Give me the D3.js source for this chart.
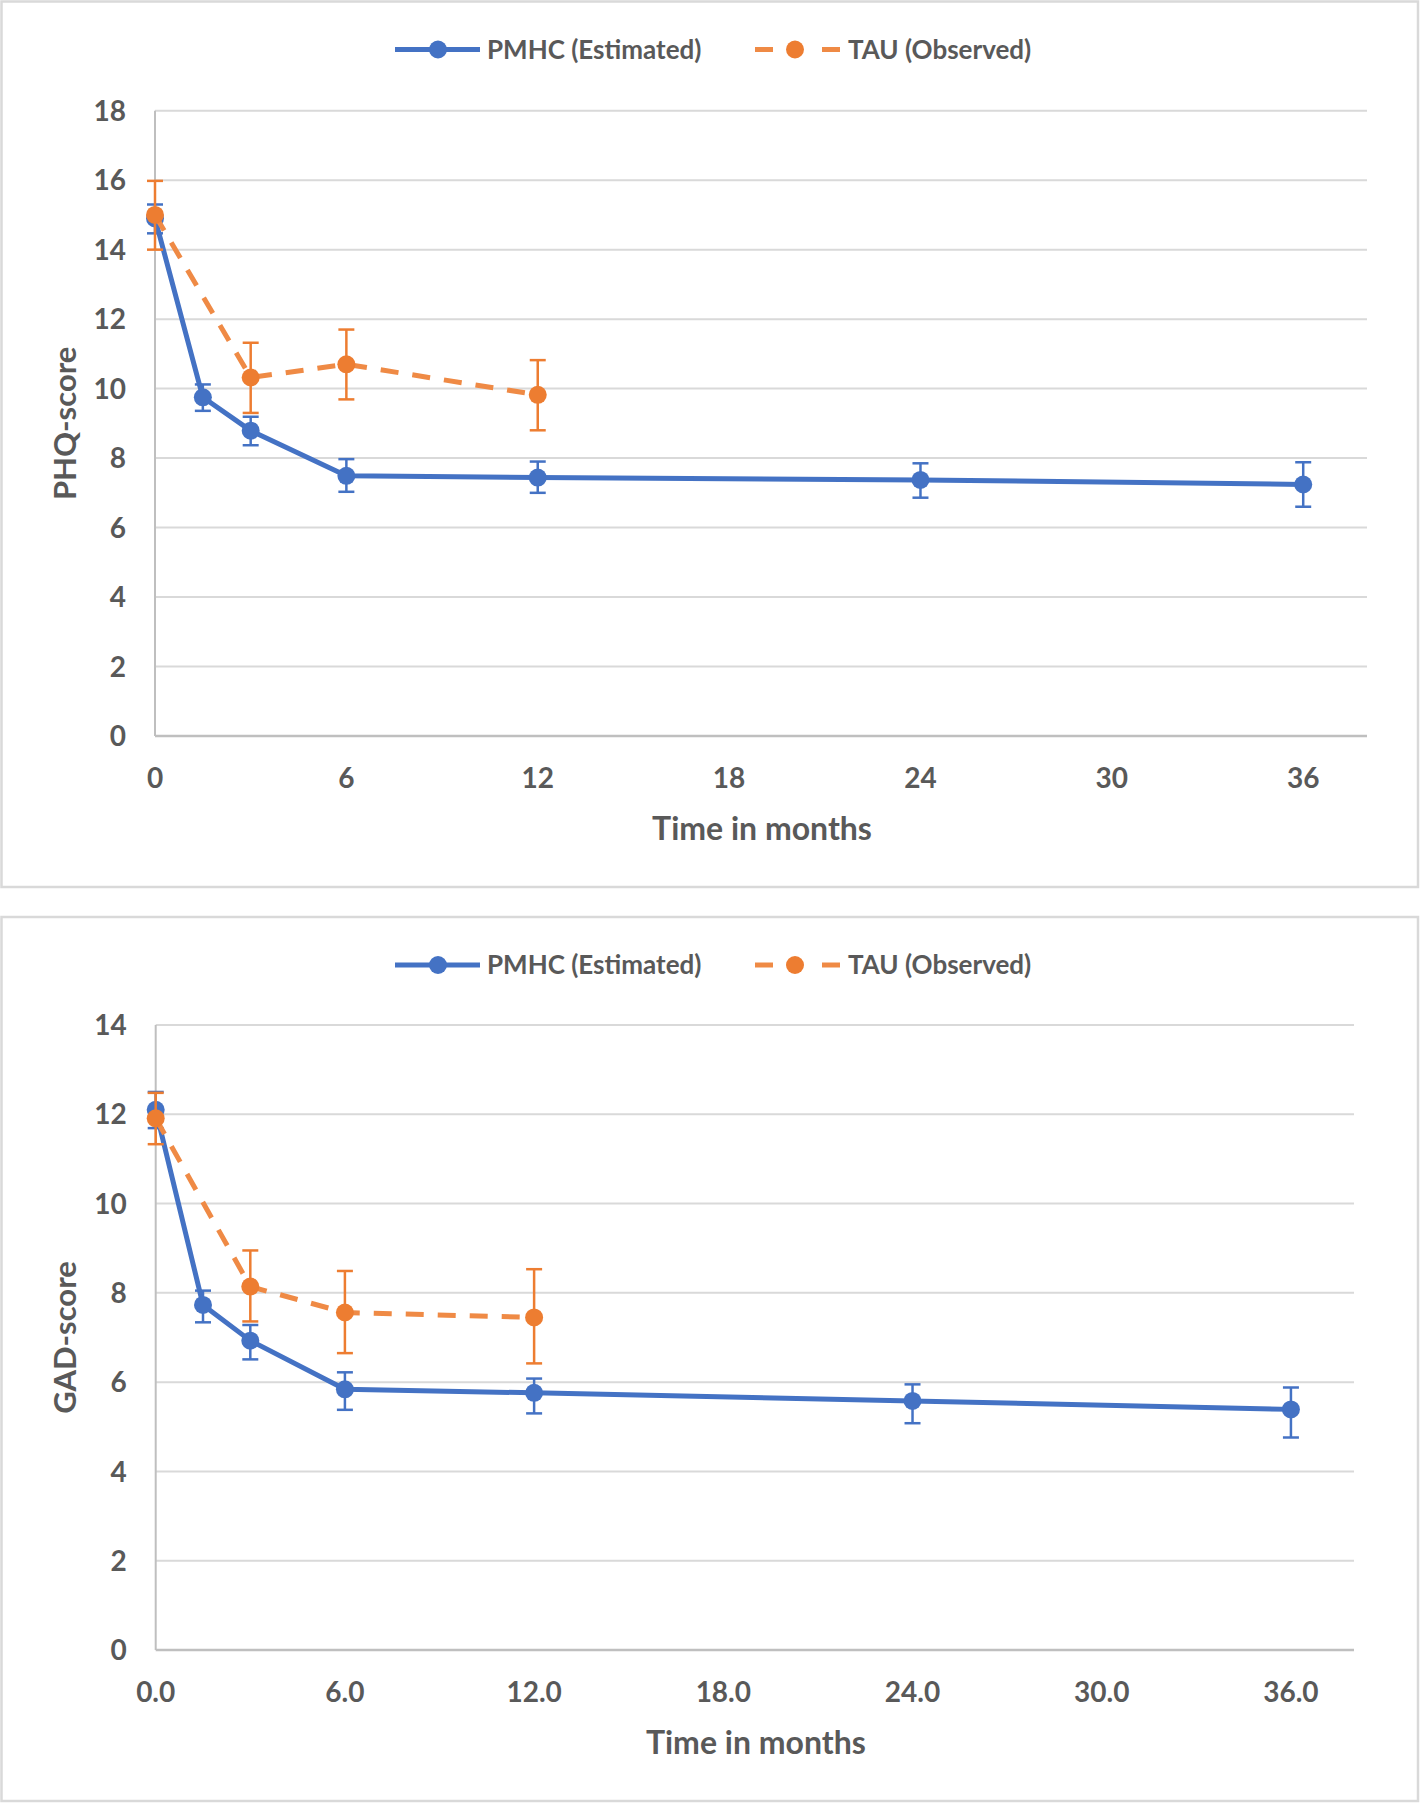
<!DOCTYPE html>
<html>
<head>
<meta charset="utf-8">
<script src="https://cdn.jsdelivr.net/npm/d3@7"></script>
<style>
  html, body { margin: 0; padding: 0; background: #ffffff; }
  svg { display: block; }
  text { font-family: Lato, "Open Sans", "Liberation Sans", sans-serif; font-weight: 700; fill: #595959; }
</style>
</head>
<body>
<svg id="chart" width="1423" height="1804"></svg>
<script>
// ---------------- DATA ----------------
const seriesNames = ["PMHC (Estimated)", "TAU (Observed)"];
const pmhcMonths = [0, 1.5, 3, 6, 12, 24, 36];
const tauMonths = [0, 3, 6, 12];
const xTicks = [0, 6, 12, 18, 24, 30, 36];

// PHQ panel
const phqPmhc   = [14.9, 9.75, 8.79, 7.49, 7.44, 7.37, 7.24];
const phqPmhcHi = [0.40, 0.37, 0.40, 0.48, 0.46, 0.48, 0.64];
const phqPmhcLo = [0.43, 0.39, 0.42, 0.46, 0.44, 0.51, 0.64];
const phqTau    = [15.0, 10.32, 10.70, 9.82];
const phqTauHi  = [0.98, 1.00, 1.00, 1.00];
const phqTauLo  = [1.00, 1.02, 1.01, 1.02];
const phqYTicks = [0, 2, 4, 6, 8, 10, 12, 14, 16, 18];

// GAD panel
const gadPmhc   = [12.10, 7.73, 6.93, 5.84, 5.76, 5.58, 5.39];
const gadPmhcHi = [0.40, 0.32, 0.35, 0.38, 0.32, 0.37, 0.49];
const gadPmhcLo = [0.41, 0.39, 0.42, 0.46, 0.46, 0.50, 0.63];
const gadTau    = [11.91, 8.14, 7.56, 7.45];
const gadTauHi  = [0.57, 0.81, 0.93, 1.08];
const gadTauLo  = [0.58, 0.78, 0.91, 1.03];
const gadYTicks = [0, 2, 4, 6, 8, 10, 12, 14];

// ---------------- STYLE ----------------
const BLUE = "#4472C4";
const ORANGE = "#ED7D31";
const ORANGE_LINE = "#EF8A45";
const GRID = "#d9d9d9";
const AXIS = "#bfbfbf";

const svg = d3.select("#chart");

function drawPanel(cfg) {
  const g = svg.append("g");
  // panel border
  g.append("rect")
    .attr("x", cfg.box.x).attr("y", cfg.box.y)
    .attr("width", cfg.box.w).attr("height", cfg.box.h)
    .attr("fill", "#fff").attr("stroke", GRID).attr("stroke-width", 2.5);

  const x = d3.scaleLinear().domain([0, 38]).range([cfg.plot.left, cfg.plot.right]);
  const y = d3.scaleLinear().domain([0, cfg.yMax]).range([cfg.plot.bottom, cfg.plot.top]);

  // gridlines
  g.append("g").selectAll("line").data(cfg.yTicks.filter(d => d > 0)).join("line")
    .attr("x1", x(0)).attr("x2", x(38))
    .attr("y1", d => y(d)).attr("y2", d => y(d))
    .attr("stroke", GRID).attr("stroke-width", 2);

  // axes lines
  g.append("line").attr("x1", x(0)).attr("x2", x(0))
    .attr("y1", y(cfg.yMax)).attr("y2", y(0))
    .attr("stroke", AXIS).attr("stroke-width", 2);
  g.append("line").attr("x1", x(0)).attr("x2", x(38))
    .attr("y1", y(0)).attr("y2", y(0))
    .attr("stroke", AXIS).attr("stroke-width", 2.5);

  // y tick labels
  g.append("g").selectAll("text").data(cfg.yTicks).join("text")
    .attr("x", x(0) - 29).attr("y", d => y(d)).attr("dy", "0.36em")
    .attr("text-anchor", "end").attr("font-size", 28)
    .text(d => d);

  // x tick labels
  g.append("g").selectAll("text").data(xTicks).join("text")
    .attr("x", d => x(d)).attr("y", y(0) + 42).attr("dy", "0.36em")
    .attr("text-anchor", "middle").attr("font-size", 28)
    .text(d => cfg.xFmt(d));

  // axis titles
  g.append("text")
    .attr("x", (cfg.plot.left + cfg.plot.right) / 2 + 1).attr("y", y(0) + 92).attr("dy", "0.36em")
    .attr("text-anchor", "middle").attr("font-size", 32)
    .text("Time in months");
  g.append("text")
    .attr("transform", `translate(65, ${(cfg.plot.top + cfg.plot.bottom) / 2}) rotate(-90)`)
    .attr("dy", "0.36em").attr("text-anchor", "middle").attr("font-size", 31)
    .text(cfg.yTitle);

  const line = d3.line().x(d => x(d.m)).y(d => y(d.v));

  function series(months, vals, hi, lo, color, lineColor, dashed) {
    const data = months.map((m, i) => ({ m, v: vals[i], hi: hi[i], lo: lo[i] }));
    const s = g.append("g");
    s.append("path").datum(data).attr("d", line)
      .attr("fill", "none").attr("stroke", lineColor).attr("stroke-width", 5)
      .attr("stroke-linejoin", "round")
      .attr("stroke-linecap", dashed ? "butt" : "round")
      .attr("stroke-dasharray", dashed ? "18,14" : null);
    const eb = s.append("g").selectAll("g").data(data).join("g")
      .attr("stroke", color).attr("stroke-width", 2.5);
    eb.append("line").attr("x1", d => x(d.m)).attr("x2", d => x(d.m))
      .attr("y1", d => y(d.v + d.hi)).attr("y2", d => y(d.v - d.lo));
    eb.append("line").attr("x1", d => x(d.m) - 8).attr("x2", d => x(d.m) + 8)
      .attr("y1", d => y(d.v + d.hi)).attr("y2", d => y(d.v + d.hi));
    eb.append("line").attr("x1", d => x(d.m) - 8).attr("x2", d => x(d.m) + 8)
      .attr("y1", d => y(d.v - d.lo)).attr("y2", d => y(d.v - d.lo));
    s.append("g").selectAll("circle").data(data).join("circle")
      .attr("cx", d => x(d.m)).attr("cy", d => y(d.v)).attr("r", 9)
      .attr("fill", color);
  }
  series(pmhcMonths, cfg.pmhc, cfg.pmhcHi, cfg.pmhcLo, BLUE, BLUE, false);
  series(tauMonths, cfg.tau, cfg.tauHi, cfg.tauLo, ORANGE, ORANGE_LINE, true);

  // legend
  const ly = cfg.box.y + 48;
  const lg = g.append("g");
  lg.append("line").attr("x1", 395).attr("x2", 480).attr("y1", ly).attr("y2", ly)
    .attr("stroke", BLUE).attr("stroke-width", 5);
  lg.append("circle").attr("cx", 438).attr("cy", ly).attr("r", 9).attr("fill", BLUE);
  lg.append("text").attr("x", 487).attr("y", ly).attr("dy", "0.36em")
    .attr("font-size", 26).text(seriesNames[0]);
  lg.append("line").attr("x1", 755).attr("x2", 773).attr("y1", ly).attr("y2", ly)
    .attr("stroke", ORANGE_LINE).attr("stroke-width", 5);
  lg.append("line").attr("x1", 822).attr("x2", 840).attr("y1", ly).attr("y2", ly)
    .attr("stroke", ORANGE_LINE).attr("stroke-width", 5);
  lg.append("circle").attr("cx", 795).attr("cy", ly).attr("r", 9).attr("fill", ORANGE);
  lg.append("text").attr("x", 848).attr("y", ly).attr("dy", "0.36em")
    .attr("font-size", 26).text(seriesNames[1]);
}

drawPanel({
  box: { x: 1.5, y: 1.5, w: 1416.5, h: 885.5 },
  plot: { left: 155, right: 1367, top: 110.7, bottom: 736 },
  yMax: 18, yTicks: phqYTicks, yTitle: "PHQ-score",
  xFmt: d => String(d),
  pmhc: phqPmhc, pmhcHi: phqPmhcHi, pmhcLo: phqPmhcLo,
  tau: phqTau, tauHi: phqTauHi, tauLo: phqTauLo
});

drawPanel({
  box: { x: 1.5, y: 917, w: 1416.5, h: 884 },
  plot: { left: 155.7, right: 1354, top: 1025, bottom: 1650 },
  yMax: 14, yTicks: gadYTicks, yTitle: "GAD-score",
  xFmt: d => d.toFixed(1),
  pmhc: gadPmhc, pmhcHi: gadPmhcHi, pmhcLo: gadPmhcLo,
  tau: gadTau, tauHi: gadTauHi, tauLo: gadTauLo
});
</script>
</body>
</html>
